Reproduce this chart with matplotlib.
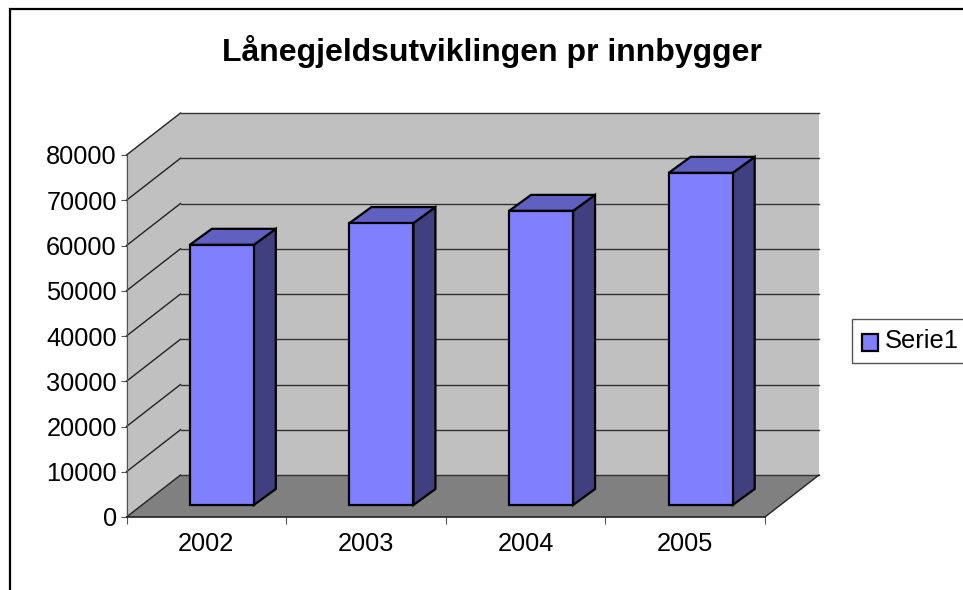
from matplotlib import pyplot as plt
from matplotlib.patches import Polygon, Patch, Rectangle
import numpy as np

years = ["2002", "2003", "2004", "2005"]
values = [57500, 62300, 65000, 73400]
yticks = [0, 10000, 20000, 30000, 40000, 50000, 60000, 70000, 80000]
title = "Lånegjeldsutviklingen pr innbygger"
series_name = "Serie1"

W, H = 963, 590
plt.rcParams['font.family'] = ['Liberation Sans', 'DejaVu Sans']

fig = plt.figure(figsize=(W / 100, H / 100), dpi=100)
# axes box is the front face of the 3d box
ax = fig.add_axes([126.5 / W, (H - 517) / H, (765 - 126.5) / W, (517 - 155) / H])
ax.set_xlim(0, len(years))
ax.set_ylim(0, 80000)
ax.patch.set_visible(False)

# depth of the box and of the bars, in data units
px_x = len(years) / (765 - 126.5)
px_y = 80000 / (517 - 155)
dx, dy = 54 * px_x, 42 * px_y
bar_w = 64 * px_x
bar_dx, bar_dy = 22 * px_x, 16 * px_y
off_x, off_y = 15.5 * px_x, 12 * px_y

def poly(pts, fc, ec="none", lw=0, z=1):
    ax.add_patch(Polygon(pts, closed=True, facecolor=fc, edgecolor=ec, linewidth=lw,
                         zorder=z, clip_on=False, joinstyle="miter"))

n = len(years)
top = yticks[-1]
poly([(0, 0), (dx, dy), (n + dx, dy), (n + dx, top + dy), (dx, top + dy), (0, top)], "#c0c0c0")
poly([(0, 0), (n, 0), (n + dx, dy), (dx, dy)], "#808080")

for v in yticks:
    ax.plot([0, dx], [v, v + dy], color="#222222", lw=1, zorder=2, clip_on=False)
    ax.plot([dx, n + dx], [v + dy, v + dy], color="#333333", lw=1, zorder=2, clip_on=False)
ax.plot([n, n + dx], [0, dy], color="#222222", lw=1, zorder=2, clip_on=False)

for i, v in enumerate(values):
    x0 = i + 0.5 - bar_w / 2 + off_x
    x1 = x0 + bar_w
    y0 = off_y
    y1 = off_y + v
    poly([(x1, y0), (x1 + bar_dx, y0 + bar_dy), (x1 + bar_dx, y1 + bar_dy), (x1, y1)],
         "#404080", "black", 1.6, 4)
    poly([(x0, y1), (x1, y1), (x1 + bar_dx, y1 + bar_dy), (x0 + bar_dx, y1 + bar_dy)],
         "#6060c0", "black", 1.6, 4)
    poly([(x0, y0), (x1, y0), (x1, y1), (x0, y1)], "#8080ff", "black", 1.6, 5)

for s in ["top", "right"]:
    ax.spines[s].set_visible(False)
ax.spines["left"].set_color("#555555")
ax.spines["bottom"].set_color("#222222")
ax.spines["bottom"].set_linewidth(1.2)
ax.spines["bottom"].set_zorder(3)

ax.set_yticks(yticks)
ax.tick_params(axis="y", labelsize=18.3, length=4, color="#555555", pad=3)
ax.set_xticks(np.arange(n + 1))
ax.set_xticklabels([])
ax.set_xticks(np.arange(n) + 0.5, years, minor=True)
ax.tick_params(axis="x", which="major", length=5, color="#555555")
ax.tick_params(axis="x", which="minor", length=0, labelsize=18.3, pad=11)

fig.text(492 / W, 1 - 51 / H, title, ha="center", va="center", fontsize=23.05, fontweight="bold")

leg = fig.legend(handles=[Patch(facecolor="#8080ff", edgecolor="black", linewidth=1.6, label=series_name)],
                 loc="upper left", bbox_to_anchor=(852 / W, 1 - 319 / H), borderaxespad=0,
                 fontsize=18.4, fancybox=False, framealpha=1, edgecolor="#555555",
                 borderpad=0.39, handlelength=0.62, handleheight=0.66, handletextpad=0.27)
leg.get_frame().set_linewidth(1)
leg.legend_handles[0].set_y(-2.5)

# outer chart frame, runs off the right and bottom of the picture
fig.add_artist(Rectangle((9.5 / W, -0.1), 1.1, 1.1 - 9.5 / H, transform=fig.transFigure,
                         fill=False, edgecolor="black", linewidth=1.6, zorder=0))

fig.savefig("out.png", dpi=100)
